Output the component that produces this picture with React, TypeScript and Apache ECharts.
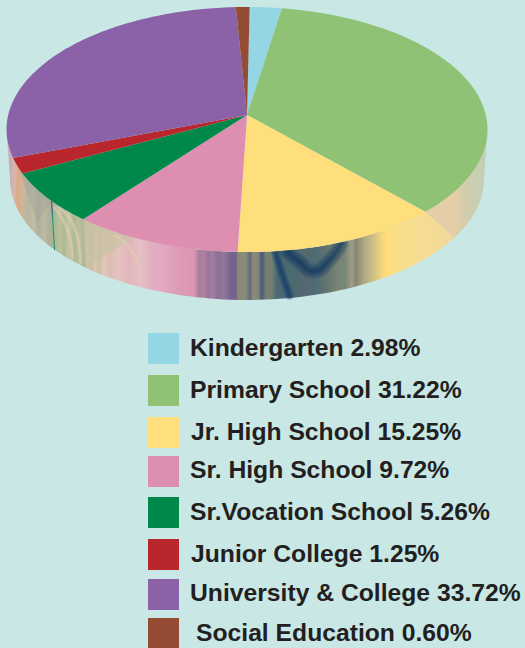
import React, { useEffect, useRef } from "react";
import * as echarts from "echarts";

const categories = ["Kindergarten", "Primary School", "Jr. High School", "Sr. High School", "Sr.Vocation School", "Junior College", "University & College", "Social Education"];
const labelPercents = ["2.98", "31.22", "15.25", "9.72", "5.26", "1.25", "33.72", "0.60"];
// The printed percentages are not what the top face of the picture shows: these shares are read off the drawn slices.
const sliceShares = [2.42, 35.44, 12.5, 10.14, 6.75, 2.0, 29.72, 1.03];
const sliceColors = ["#94d6e4", "#8fc274", "#ffde7c", "#de8eb0", "#00884b", "#b9272d", "#8b62a8", "#954c35"];

const START_DEG = 0.7;
const CX = 247, CY = 115, A = 238.8, B = 120.8, K = 0.1184;
const BOTTOM_SCALE = 0.985, BOTTOM_DY = 50;

function onFace(deg: number, level: number): number[] {
  const r = (deg * Math.PI) / 180;
  const u = Math.sin(r), v = -Math.cos(r), w = 1 - K * v;
  const s = 1 + (BOTTOM_SCALE - 1) * level;
  return [CX + (s * A * u) / w, CY + BOTTOM_DY * level + (s * B * v) / w];
}
function onWall(deg: number, t: number): number[] {
  const a = onFace(deg, 0), b = onFace(deg, 1);
  return [a[0] + (b[0] - a[0]) * t, a[1] + (b[1] - a[1]) * t];
}

const wallStops: [number, string][] = [
  [6, "#c9cabd"], [10, "#c8abb5"], [14, "#d4b9a8"], [18, "#e0a985"], [22, "#cdb79a"], [28, "#b9b6a0"], [34, "#c2bea5"], [38, "#aeb09c"], [44, "#bcbaa2"], [50, "#aab09a"],
  [55, "#a9b895"], [60, "#bdc29c"], [64, "#abba93"], [69, "#c6c4a0"], [74, "#abb993"], [79, "#bcbf9c"], [84, "#a9b993"], [88, "#d4c2a9"], [91, "#c0bca0"], [95, "#e0c6b4"], [99, "#cabea6"],
  [104, "#e3c5ba"], [110, "#dcbcb0"], [118, "#e5c3c0"], [128, "#e2b6bb"], [140, "#e5bfc4"], [152, "#e2aec0"], [165, "#e2a8c0"], [178, "#dd9bb6"], [194, "#dc95b4"],
  [199, "#a97c9f"], [204, "#b0829f"], [208, "#94759a"], [213, "#a27e9e"], [218, "#8b6d96"], [224, "#94789b"], [230, "#796490"], [236, "#75608c"],
  [238, "#8a8a7a"], [246, "#8a8a78"], [250, "#5e6c7c"], [253, "#8b8b79"], [258, "#86877a"], [262, "#47597f"], [266, "#77806f"], [272, "#707f72"], [277, "#4c6776"], [283, "#4d6874"],
  [292, "#4a6a70"], [304, "#55696f"], [316, "#4f6b75"], [326, "#62746f"], [338, "#7b8474"], [345, "#778678"], [352, "#a09d85"], [356, "#81886f"], [364, "#b0a883"], [372, "#c8bb88"], [380, "#ebd07f"], [386, "#ffde7b"],
  [400, "#f8dd8c"], [430, "#f5dc94"], [452, "#f0d99c"], [454, "#e3cda6"], [468, "#d1cdae"], [478, "#c8ceb2"], [488, "#c2cdb6"],
];

const legendSwatchY = [333, 375, 417, 456, 497, 539, 579, 618];
const legendTextX = [190, 190, 191, 190, 190, 191, 190, 196];
const legendTextY = [347, 389, 431, 469, 511, 553, 592, 632];

function sliceStarts() {
  const total = sliceShares.reduce((s, v) => s + v, 0);
  let acc = 0;
  return sliceShares.map((v) => {
    const start = START_DEG + (acc / total) * 360;
    acc += v;
    return [v, start, (v / total) * 360];
  });
}

function renderWall() {
  const outline: number[][] = [];
  for (let d = 97; d <= 263; d += 1.5) outline.push(onFace(d, 0));
  for (let d = 263; d >= 97; d -= 1.5) outline.push(onFace(d, 1));
  const grad = new echarts.graphic.LinearGradient(6, 0, 488, 0, wallStops.map(([x, color]) => ({ offset: (x - 6) / 482, color })), true);
  const poly = (points: number[][], fill: string, opacity = 1) => ({ type: "polygon", shape: { points }, style: { fill, opacity } });
  const stroke = (points: number[][], color: string, width: number, opacity = 1, smooth = 0.5) => ({
    type: "polyline",
    shape: { points, smooth },
    style: { fill: "none", stroke: color, lineWidth: width, opacity, lineCap: "round" },
  });
  // Several widths at low opacity stand in for the soft banding of the original wall.
  const soft = (points: number[][], color: string, width: number, opacity: number) =>
    [1, 0.8, 0.6, 0.42, 0.26, 0.14].map((f) => stroke(points, color, width * f, opacity));
  const uArm = [onWall(171.5, 0.02), onWall(169, 0.25), onWall(165.5, 0.5), onWall(162, 0.32), onWall(159.5, 0.03)];
  const streak = [onWall(174, 0.03), onWall(172.6, 0.45), onWall(170.8, 0.95)];
  const arcs = [
    [onWall(226, 0.03), onWall(222, 0.2), onWall(220.2, 0.6), onWall(220, 0.95)],
    [onWall(228, 0.1), onWall(224.5, 0.3), onWall(222.8, 0.62), onWall(222.6, 0.96)],
    [onWall(210, 0.08), onWall(207, 0.18), onWall(204, 0.5)],
  ];
  return {
    type: "group",
    silent: true,
    children: [
      poly(outline, grad as any),
      poly([onFace(137, 0), onWall(124.7, 1), onFace(124.7, 0)], "#e4cea8"),
      poly([onFace(218.5, 0), onWall(218.5, 1), onFace(205, 0)], "#c8c1a6", 0.75),
      poly([onFace(229, 0), onWall(236, 0.72), onFace(246, 0)], "#a6a59a", 0.55),
      ...arcs.flatMap((p) => soft(p, "#e8d2b4", 4, 0.16)),
      stroke([onWall(229, 0), onWall(229, 0.27)], "#33508c", 1, 1, 0),
      stroke([onWall(229, 0.27), onWall(229, 1)], "#1f9064", 1, 1, 0),
      ...soft(streak, "#0f3d68", 9, 0.2),
      ...soft(uArm, "#03305f", 15, 0.17),
    ],
  };
}

function renderSlice(_: any, api: any) {
  const start = api.value(1), sweep = api.value(2);
  const points = [[CX, CY]];
  const n = Math.max(2, Math.ceil(sweep));
  for (let i = 0; i <= n; i++) points.push(onFace(start + (sweep * i) / n, 0));
  return { type: "polygon", shape: { points }, style: { fill: api.visual("color") } };
}

export default function App() {
  const ref = useRef<HTMLDivElement>(null);
  useEffect(() => {
    document.body.style.margin = "0";
    const chart = echarts.init(ref.current!, undefined, { renderer: "svg" });
    const graphic: any[] = [];
    categories.forEach((name, i) => {
      graphic.push({ type: "rect", shape: { x: 148, y: legendSwatchY[i], width: 31, height: 31 }, style: { fill: sliceColors[i] } });
      graphic.push({
        type: "text",
        x: legendTextX[i],
        y: legendTextY[i],
        style: {
          text: `${name} ${labelPercents[i]}%`,
          fontFamily: "Liberation Sans",
          fontWeight: "bold",
          fontSize: 24.7,
          fill: "#231f20",
          textVerticalAlign: "middle",
        },
      });
    });
    chart.setOption({
      animation: false,
      backgroundColor: "#c9e7e5",
      graphic,
      series: [
        { type: "custom", coordinateSystem: "none", silent: true, data: [[0]], renderItem: renderWall, z: 1 },
        {
          type: "custom",
          coordinateSystem: "none",
          silent: true,
          z: 2,
          data: sliceStarts().map((value, i) => ({ name: categories[i], value, itemStyle: { color: sliceColors[i] } })),
          renderItem: renderSlice,
        },
      ],
    });
    return () => chart.dispose();
  }, []);
  return <div ref={ref} style={{ position: "absolute", left: 0, top: 0, width: 525, height: 648 }} />;
}
